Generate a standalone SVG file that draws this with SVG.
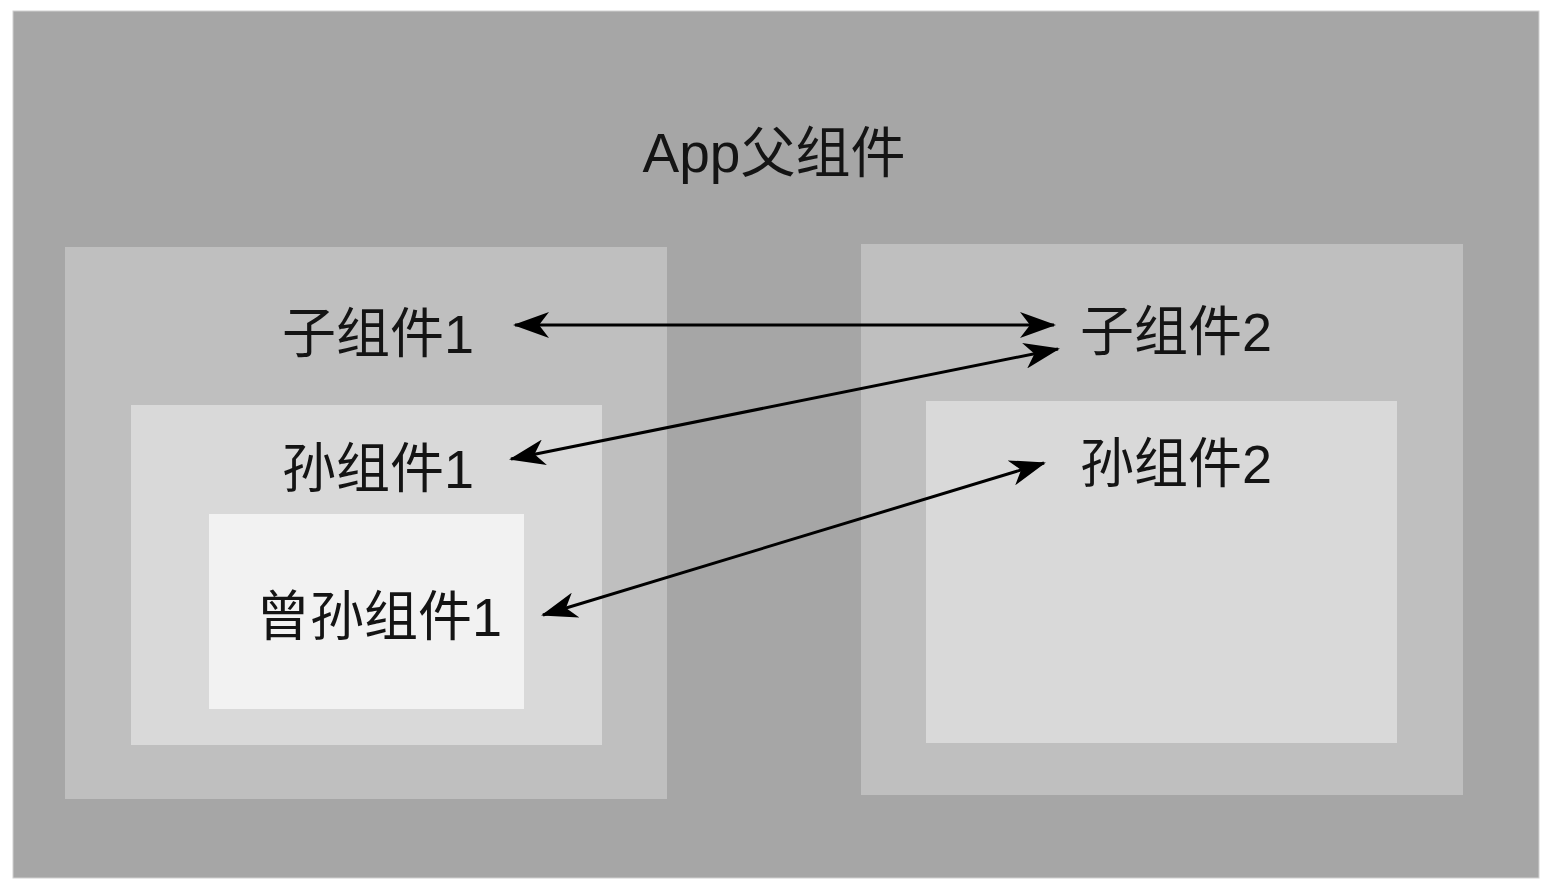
<svg xmlns="http://www.w3.org/2000/svg" width="1554" height="890" viewBox="0 0 1554 890">
<style>
.lbl{font-family:"Liberation Sans","Noto Sans CJK SC",sans-serif;font-size:54px;fill:#141414;text-anchor:middle}
.title{font-size:55px}
.conn{stroke:#000;stroke-width:3;fill:none;marker-start:url(#ah);marker-end:url(#ah)}
</style>
<defs>
<marker id="ah" markerUnits="userSpaceOnUse" viewBox="0 0 36 26" refX="34" refY="13" markerWidth="36" markerHeight="26" orient="auto-start-reverse">
<path d="M0,0 L36,13 L0,26 L10,13 Z" fill="#000"/>
</marker>
</defs>
<rect width="1554" height="890" fill="#fff"/>
<g id="app">
<rect x="13" y="11" width="1526" height="867" fill="#a6a6a6" stroke="#d0d0d0" stroke-width="1"/>
<text class="lbl title" x="774" y="172">App父组件</text>
</g>
<g id="child1">
<rect x="65" y="247" width="602" height="552" fill="#bfbfbf"/>
<text class="lbl" x="378" y="353">子组件1</text>
</g>
<g id="grandchild1">
<rect x="131" y="405" width="471" height="340" fill="#d9d9d9"/>
<text class="lbl" x="378" y="488">孙组件1</text>
</g>
<g id="greatgrandchild1">
<rect x="209" y="514" width="315" height="195" fill="#f2f2f2"/>
<text class="lbl" x="379" y="636">曾孙组件1</text>
</g>
<g id="child2">
<rect x="861" y="244" width="602" height="551" fill="#bfbfbf"/>
<text class="lbl" x="1176" y="351">子组件2</text>
</g>
<g id="grandchild2">
<rect x="926" y="401" width="471" height="342" fill="#d9d9d9"/>
<text class="lbl" x="1176" y="483">孙组件2</text>
</g>
<g id="connectors">
<line class="conn" x1="515" y1="325" x2="1054" y2="325"/>
<line class="conn" x1="511" y1="459" x2="1058" y2="349"/>
<line class="conn" x1="543" y1="615" x2="1044" y2="463"/>
</g>
</svg>
